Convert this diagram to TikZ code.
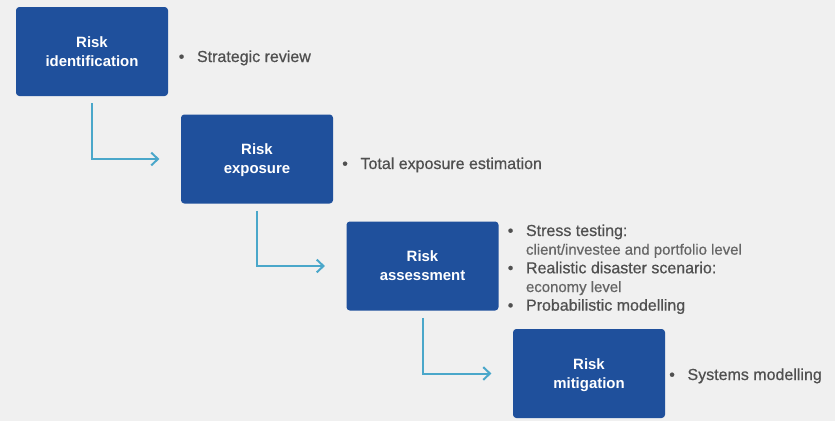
\documentclass[tikz,border=0pt]{standalone}
\usepackage{fontspec}
\setmainfont{Liberation Sans}
\newfontface\medfont{Liberation Sans}[FakeBold=0.6]
\usetikzlibrary{arrows.meta}
\definecolor{bggray}{HTML}{F0F0F0}
\definecolor{boxblue}{HTML}{1F509C}
\definecolor{flowblue}{HTML}{4AA7CA}
\definecolor{listgray}{HTML}{505050}
\definecolor{subgray}{HTML}{666666}
\newcommand{\itemlist}[1]{\begin{tabular}[t]{@{}l@{\hspace{9.5pt}}l@{}}#1\end{tabular}}
\newcommand{\subline}[1]{{\fontsize{11.2}{14}\selectfont\color{subgray}#1}}
\begin{document}
\begin{tikzpicture}[x=0.75pt,y=-0.75pt,
	stepbox/.style={fill=boxblue, text=white, rounded corners=2.5pt, minimum width=114pt, minimum height=66.75pt, align=center, inner sep=0pt, text depth=0pt, font=\fontsize{11.2}{14.25}\selectfont\bfseries, execute at begin node=\rule{0pt}{12pt}},
	itemtext/.style={anchor=base west, inner sep=0pt, text=listgray, font=\fontsize{12}{14}\selectfont\medfont},
	flow/.style={draw=flowblue, line width=1.5pt, -{Straight Barb[length=5pt,width=9.5pt]}, shorten <=5.25pt, shorten >=16pt}]
	\fill[bggray] (0,0) rectangle (835,421);
	\useasboundingbox (0,0) rectangle (835,421);
	% steps
	\node[stepbox] (ident) at (92,51.5) {Risk\\identification};
	\node[stepbox] (expo) at (257,159) {Risk\\exposure};
	\node[stepbox] (assess) at (422.5,266) {Risk\\assessment};
	\node[stepbox] (mitig) at (589,373.5) {Risk\\mitigation};
	% lists
	\node[itemtext] (identlist) at (178.5,62) {\itemlist{\textbullet & Strategic review}};
	\node[itemtext] (expolist) at (342,169) {\itemlist{\textbullet & Total exposure estimation}};
	\node[itemtext] (assesslist) at (507.5,236) {\itemlist{\textbullet & Stress testing:\\ & \subline{client/investee and portfolio level}\\ \textbullet & Realistic disaster scenario:\\ & \subline{economy level}\\ \textbullet & Probabilistic modelling}};
	\node[itemtext] (mitiglist) at (669,380) {\itemlist{\textbullet & Systems modelling}};
	% arrows
	\draw[flow] (ident) |- (expo);
	\draw[flow] (expo) |- (assess);
	\draw[flow] (assess) |- (mitig);
\end{tikzpicture}
\end{document}
